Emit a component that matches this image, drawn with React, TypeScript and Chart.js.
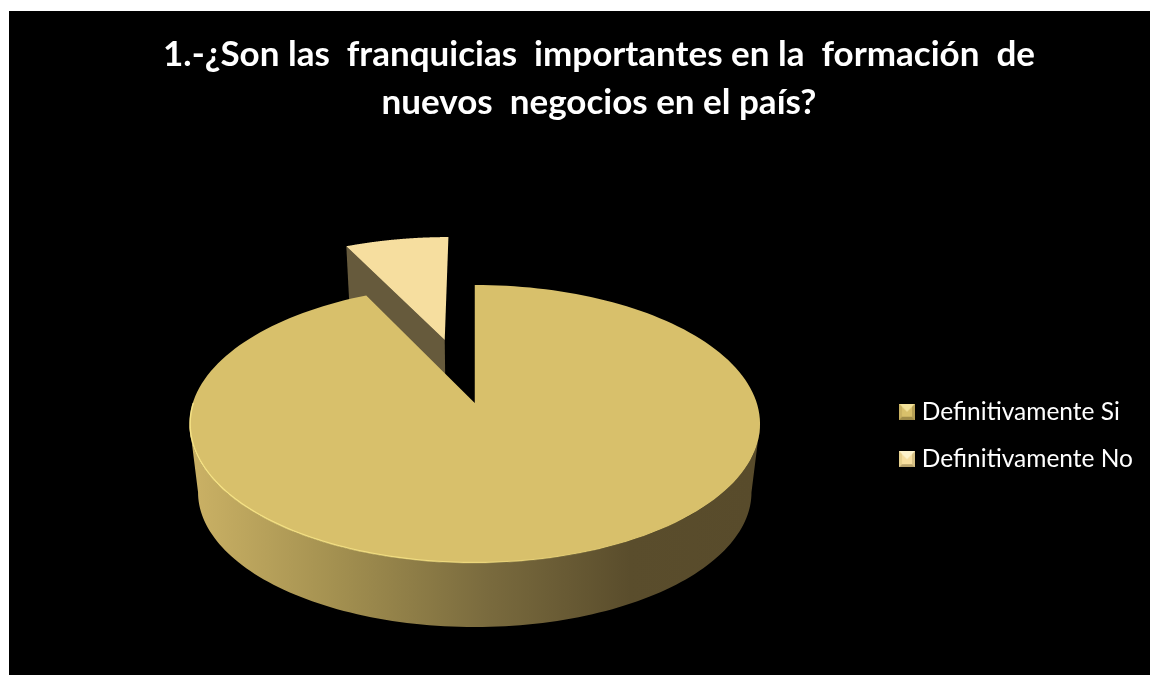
import React, { useEffect, useRef } from "react";
import { Chart, registerables } from "chart.js";

Chart.register(...registerables);

const categories = ["Definitivamente Si", "Definitivamente No"];
const shares = [92.8, 7.2];
const sliceColors = ["#d8c06b", "#f6de9f"];
const wallColors = ["#7a6b3e", "#665a3c"];
const explode = [0, 144];
const titleLines = [
  "1.-¿Son las  franquicias  importantes en la  formación  de",
  "nuevos  negocios en el país?",
];

// Perspective of the tilted disc.
const VANISH = 0.151;
const SQUASH = 0.4817;
const BASE_SCALE = 0.97;
const BASE_DROP = 0.244;
const PIE_LIFT = -32.5;
const PIE_SHIFT = 6.5;

type Pt = [number, number];

function project(cx: number, cy: number, r: number, u: number, v: number, base = false): Pt {
  const w = 1 + VANISH * v;
  const x = (r * u) / w;
  const y = (-r * SQUASH * v) / w;
  return base
    ? [cx + BASE_SCALE * x, cy + BASE_DROP * r + BASE_SCALE * y]
    : [cx + x, cy + y];
}

function tracePath(ctx: CanvasRenderingContext2D, pts: Pt[]) {
  ctx.beginPath();
  pts.forEach((p, i) => (i ? ctx.lineTo(p[0], p[1]) : ctx.moveTo(p[0], p[1])));
  ctx.closePath();
}

const pie3d = {
  id: "pie3d",
  beforeDatasetDraw(chart: any, args: any) {
    const { ctx } = chart;
    const arcs = args.meta.data;
    const left = 189;
    const right = 743;
    for (let i = arcs.length - 1; i >= 0; i--) {
      const arc = arcs[i];
      const { x: ax, y, startAngle, endAngle, outerRadius: r } = arc.getProps(
        ["x", "y", "startAngle", "endAngle", "outerRadius"],
        true
      );
      const x = ax + PIE_SHIFT;
      const cy = y + PIE_LIFT;
      const mid = (startAngle + endAngle) / 2;
      const off = (arc.options.offset || 0) / r;
      const ox = Math.cos(mid) * off;
      const oy = -Math.sin(mid) * off;
      const at = (a: number, rad: number, base = false) =>
        project(x, cy, r, ox + rad * Math.cos(a), oy - rad * Math.sin(a), base);

      // Radial cut face along the slice's leading edge.
      ctx.fillStyle = wallColors[i];
      tracePath(ctx, [at(startAngle, 1), at(startAngle, 0), at(startAngle, 0, true), at(startAngle, 1, true)]);
      ctx.fill();

      // Outer rim, only where it faces the viewer.
      const rimFrom = Math.max(startAngle, Math.asin(VANISH));
      const rimTo = Math.min(endAngle, Math.PI - Math.asin(VANISH));
      if (rimTo > rimFrom) {
        const top: Pt[] = [];
        const bottom: Pt[] = [];
        for (let k = 0; k <= 120; k++) {
          const a = rimFrom + ((rimTo - rimFrom) * k) / 120;
          top.push(at(a, 1));
          bottom.push(at(a, 1, true));
        }
        const g = ctx.createLinearGradient(left, 0, right, 0);
        g.addColorStop(0, "#c9b064");
        g.addColorStop(0.25, "#a39050");
        g.addColorStop(0.52, "#7a6b3e");
        g.addColorStop(0.78, "#5a4d2c");
        g.addColorStop(1, "#584b2b");
        ctx.fillStyle = g;
        tracePath(ctx, top.concat(bottom.reverse()));
        ctx.fill();
      }

      // Top face.
      const face: Pt[] = [at(0, 0)];
      for (let k = 0; k <= 180; k++) {
        face.push(at(startAngle + ((endAngle - startAngle) * k) / 180, 1));
      }
      ctx.fillStyle = arc.options.backgroundColor;
      tracePath(ctx, face);
      ctx.fill();

      // Light catching the near left edge of the disc.
      if (rimTo > rimFrom) {
        const g = ctx.createLinearGradient(left, 0, 631, 0);
        g.addColorStop(0, "rgba(255,236,140,0.8)");
        g.addColorStop(0.55, "rgba(255,236,140,0.6)");
        g.addColorStop(1, "rgba(255,236,140,0)");
        ctx.strokeStyle = g;
        ctx.lineWidth = 1.5;
        ctx.beginPath();
        for (let k = 0; k <= 120; k++) {
          const a = Math.PI - ((Math.PI - 0.9) * k) / 120;
          const p = at(a, 0.998);
          k ? ctx.lineTo(p[0], p[1]) : ctx.moveTo(p[0], p[1]);
        }
        ctx.stroke();
      }
    }
    return false;
  },
};

// Small bevelled square used as the legend key.
function bevelKey(top: string, side: string, lower: string, shade: string, middle: string) {
  const c = document.createElement("canvas");
  c.width = 16;
  c.height = 16;
  const g = c.getContext("2d") as CanvasRenderingContext2D;
  const tri = (pts: Pt[], col: string) => {
    g.fillStyle = col;
    tracePath(g, pts);
    g.fill();
  };
  g.fillStyle = middle;
  g.fillRect(0, 0, 16, 16);
  tri([[0, 0], [16, 0], [8, 8]], top);
  tri([[0, 0], [0, 16], [3, 13], [3, 3]], side);
  tri([[16, 0], [16, 16], [13, 13], [13, 3]], shade);
  tri([[0, 16], [16, 16], [13, 13], [3, 13]], lower);
  return c;
}

export default function App() {
  const ref = useRef<HTMLCanvasElement>(null);

  useEffect(() => {
    const keys = [
      bevelKey("#f3e29a", "#c9b161", "#a08c4a", "#b59f55", "#d8c06b"),
      bevelKey("#fdf3cd", "#e6d08e", "#b7a26c", "#d6c084", "#f6de9f"),
    ];
    const chart = new Chart(ref.current as HTMLCanvasElement, {
      type: "pie",
      data: {
        labels: categories,
        datasets: [
          {
            data: shares,
            backgroundColor: sliceColors,
            borderWidth: 0,
            offset: explode,
          },
        ],
      },
      plugins: [pie3d],
      options: {
        animation: false,
        responsive: false,
        radius: 282,
        layout: { padding: { left: 46, right: 7, top: 0, bottom: 0 } },
        plugins: {
          tooltip: { enabled: false },
          title: {
            display: true,
            text: titleLines,
            color: "#ffffff",
            font: { family: "Lato", size: 35, weight: "bold", lineHeight: 1.371 },
            padding: { top: 20, bottom: 69 },
          },
          legend: {
            position: "right",
            fullSize: false,
            labels: {
              color: "#ffffff",
              font: { family: "Lato", size: 24.5 },
              usePointStyle: true,
              pointStyleWidth: 5,
              padding: 23,
              generateLabels: (c: any) =>
                c.data.labels.map((text: string, i: number) => ({
                  text,
                  index: i,
                  pointStyle: keys[i],
                  fontColor: "#ffffff",
                  lineWidth: 0,
                })),
            },
          },
        },
      },
    } as any);
    return () => chart.destroy();
  }, []);

  return (
    <canvas
      ref={ref}
      width={1141}
      height={664}
      style={{ position: "fixed", left: 9, top: 11, background: "#000", display: "block" }}
    />
  );
}
